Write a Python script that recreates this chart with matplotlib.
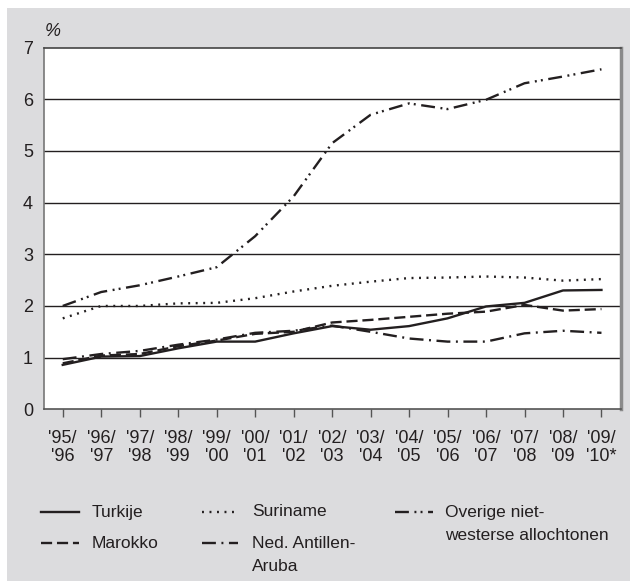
import matplotlib
matplotlib.use('Agg')
import matplotlib.pyplot as plt
from matplotlib.lines import Line2D
from matplotlib.patches import Rectangle

plt.rcParams['font.family'] = ['Liberation Sans', 'DejaVu Sans']
plt.rcParams['lines.scale_dashes'] = False

periods = ["'95/\n'96", "'96/\n'97", "'97/\n'98", "'98/\n'99", "'99/\n'00",
           "'00/\n'01", "'01/\n'02", "'02/\n'03", "'03/\n'04", "'04/\n'05",
           "'05/\n'06", "'06/\n'07", "'07/\n'08", "'08/\n'09", "'09/\n'10*"]
turkije = [0.86, 1.02, 1.03, 1.18, 1.31, 1.31, 1.47, 1.61, 1.54, 1.61, 1.76, 1.99, 2.06, 2.30, 2.31]
marokko = [0.89, 1.04, 1.07, 1.22, 1.33, 1.46, 1.50, 1.68, 1.73, 1.79, 1.85, 1.89, 2.02, 1.91, 1.94]
suriname = [1.76, 2.00, 2.00, 2.05, 2.06, 2.15, 2.28, 2.39, 2.47, 2.54, 2.55, 2.57, 2.55, 2.49, 2.52]
antillen = [0.97, 1.07, 1.13, 1.25, 1.35, 1.48, 1.52, 1.62, 1.50, 1.37, 1.31, 1.31, 1.47, 1.52, 1.48]
overige = [2.00, 2.27, 2.40, 2.57, 2.75, 3.35, 4.12, 5.15, 5.70, 5.92, 5.81, 5.99, 6.31, 6.44, 6.58]

W, H = 630, 581
INK = '#231f20'

def fx(x):
    return x / W

def fy(y):
    return 1 - y / H

fig = plt.figure(figsize=(6.3, 5.81), dpi=100, facecolor='white')
fig.patches.append(Rectangle((fx(7), 0), 1 - fx(7), fy(7.5), transform=fig.transFigure,
                             facecolor='#dcdcde', edgecolor='none', zorder=-5))

ax = fig.add_axes([fx(43.5), fy(409.3), fx(620.7) - fx(43.5), fy(47.6) - fy(409.3)])
ax.set_facecolor('white')

x = list(range(len(periods)))
styles = {
    'dashed': (0, (8, 3.5)),
    'dotted': (0, (1.4, 4.0)),
    'dashdot': (0, (10, 4, 1.4, 4)),
    'dashdotdot': (0, (10, 4, 1.4, 3, 1.4, 4)),
}
lw = 1.7
ax.plot(x, suriname, color=INK, lw=lw, linestyle=styles['dotted'], zorder=3)
ax.plot(x, overige, color=INK, lw=lw, linestyle=styles['dashdotdot'], zorder=3)
ax.plot(x, antillen, color=INK, lw=lw, linestyle=styles['dashdot'], zorder=3)
ax.plot(x, marokko, color=INK, lw=lw, linestyle=styles['dashed'], zorder=3)
ax.plot(x, turkije, color=INK, lw=lw, linestyle='-', zorder=3)

ax.set_xlim(-0.5, 14.5)
ax.set_ylim(0, 7)
ax.set_yticks(range(0, 8))
ax.set_yticklabels([str(v) for v in range(0, 8)], fontsize=13, color=INK)
ax.set_xticks(x)
ax.set_xticklabels(periods, fontsize=13, color=INK, linespacing=1.12)
ax.tick_params(axis='y', length=0, pad=7.5)
ax.tick_params(axis='x', direction='out', length=5.8, width=1.0, color='#555555', pad=9)

for v in range(1, 7):
    ax.axhline(v, color=INK, lw=1.0, zorder=1)

ax.spines['left'].set_color('#777777')
ax.spines['left'].set_linewidth(1.2)
ax.spines['bottom'].set_color('#555555')
ax.spines['bottom'].set_linewidth(1.2)
ax.spines['top'].set_color('#444444')
ax.spines['top'].set_linewidth(1.2)
ax.spines['right'].set_color('#8a8a8a')
ax.spines['right'].set_linewidth(2.5)

fig.text(fx(45), fy(31), '%', fontsize=13, style='italic', color=INK, va='center', ha='left')

# legend
entries = [
    (41, 79, 512, '-', ['Turkije'], 91.7),
    (41, 79, 543, styles['dashed'], ['Marokko'], 91.7),
    (201.7, 238, 512, styles['dotted'], ['Suriname'], 251.7),
    (201.7, 238, 543, styles['dashdot'], ['Ned. Antillen-', 'Aruba'], 251.7),
    (395, 433, 512, styles['dashdotdot'], ['Overige niet-', 'westerse allochtonen'], 445),
]
for x0, x1, yy, ls, lines, tx in entries:
    fig.add_artist(Line2D([fx(x0), fx(x1)], [fy(yy), fy(yy)], transform=fig.transFigure,
                          color=INK, lw=1.7, linestyle=ls))
    for k, line in enumerate(lines):
        fig.text(fx(tx), fy(yy + k * 23.5), line, fontsize=12.5, color=INK,
                 ha='left', va='center')

fig.savefig('out.png', dpi=100, facecolor='white')
